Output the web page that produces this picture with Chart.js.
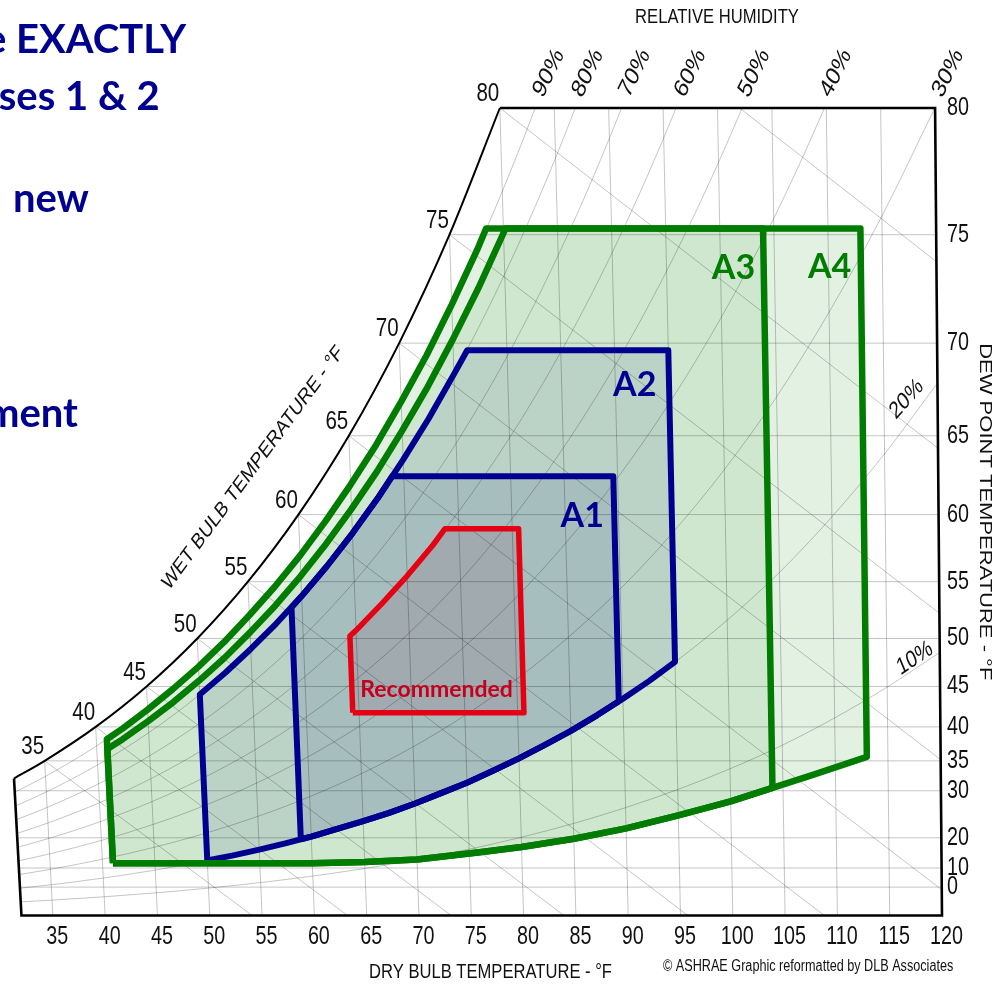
<!DOCTYPE html>
<html>
<head>
<meta charset="utf-8">
<title>ASHRAE classes – psychrometric chart</title>
<script src="https://cdn.jsdelivr.net/npm/chart.js@4.4.1/dist/chart.umd.min.js"></script>
<style>
  html, body { margin: 0; padding: 0; background: #fff; }
  #box { width: 1000px; height: 984px; }
</style>
</head>
<body>
<div id="box"><canvas id="chart" width="1000" height="984"></canvas></div>
<script>
// Saturation pressure table (°F -> psia), used to place humidity ratio on the y scale
const tableTemp = [0, 10, 20, 30, 32, 35, 40, 45, 50, 55, 60, 65, 70, 75, 80, 85, 90, 95, 100, 105, 110, 115, 120];
const tablePsat = [0.01845, 0.03085, 0.05040, 0.08075, 0.08865, 0.09998, 0.12173, 0.14756, 0.17811, 0.21413,
  0.25638, 0.30578, 0.36334, 0.43016, 0.50745, 0.59647, 0.69865, 0.81556, 0.94876, 1.1001, 1.2750, 1.4720, 1.6927];

// Axis / grid values
const dryBulbTicks = [35, 40, 45, 50, 55, 60, 65, 70, 75, 80, 85, 90, 95, 100, 105, 110, 115, 120];
const dewPointTicks = [0, 10, 20, 30, 35, 40, 45, 50, 55, 60, 65, 70, 75, 80];
const rhLevels = [10, 20, 30, 40, 50, 60, 70, 80, 90];
const rhTopLabels = ['90%', '80%', '70%', '60%', '50%', '40%', '30%'];
const rhTopTemps = [83.2, 86.8, 91.1, 96.2, 102.1, 109.6, 119.9];
const wetBulbTemps = [35, 40, 45, 50, 55, 60, 65, 70, 75, 80, 85];
const wetBulbLabels = [35, 40, 45, 50, 55, 60, 65, 70, 75, 80];

// Envelopes: dry bulb (°F) and humidity ratio (grains/lb)
const a4DryBulb = [41, 60, 65, 70, 76, 80, 85, 90, 95, 100, 104, 108, 113, 113, 78.4,
  77.5, 75, 72.5, 70, 67.5, 65, 62.5, 60, 57.5, 55, 52.5, 50, 47.5, 45, 42.5, 41];
const a4Grains = [10.1, 10.1, 10.3, 10.8, 12.2, 13.2, 14.8, 16.8, 19.3, 22.0, 24.6, 27.2, 30.6, 132.5, 132.5,
  128.3, 117.8, 108.0, 99.1, 90.7, 83.1, 76.0, 69.4, 63.4, 57.9, 52.7, 48.0, 43.7, 39.7, 36.0, 34.0];
const a3DryBulb = [41, 60, 65, 70, 76, 80, 85, 90, 95, 100, 104, 104, 80.2, 80,
  77.5, 75, 72.5, 70, 67.5, 65, 62.5, 60, 57.5, 55, 52.5, 50, 47.5, 45, 42.5, 41];
const a3Grains = [10.1, 10.1, 10.3, 10.8, 12.2, 13.2, 14.8, 16.8, 19.3, 22.0, 24.6, 132.5, 132.5, 131.6,
  120.9, 111.1, 101.9, 93.5, 85.6, 78.4, 71.7, 65.5, 59.8, 54.6, 49.7, 45.3, 41.2, 37.5, 34.0, 32.1];
const a2DryBulb = [50, 52.5, 55, 57.5, 60, 62.5, 65, 67.5, 70, 72.5, 75, 77.5, 80, 82.5, 85, 87.5, 90, 92.5, 95,
  95, 76.3, 75, 72.5, 70, 67.5, 65, 62.5, 60, 57.5, 55, 52.5, 50];
const a2Grains = [10.6, 11.6, 12.7, 13.9, 15.2, 16.7, 18.2, 19.8, 21.6, 23.6, 25.6, 27.9, 30.3, 32.9, 35.6, 38.6, 41.8, 45.2, 48.9,
  109, 109, 104.4, 95.8, 87.9, 80.5, 73.7, 67.4, 61.6, 56.3, 51.4, 46.8, 42.6];
const a1DryBulb = [59, 60, 62.5, 65, 67.5, 70, 72.5, 75, 77.5, 80, 82.5, 85, 87.5, 89.6,
  89.6, 68.9, 67.5, 65, 62.5, 60, 59];
const a1Grains = [14.7, 15.2, 16.7, 18.2, 19.8, 21.6, 23.6, 25.6, 27.9, 30.3, 32.9, 35.6, 38.6, 41.3,
  84.7, 84.7, 80.5, 73.7, 67.4, 61.6, 59.4];
const recDryBulb = [64.4, 80.6, 80.6, 73.7, 72.5, 70, 67.5, 65, 64.4];
const recGrains = [39.1, 39.1, 74.6, 74.6, 71.4, 65.5, 60.1, 55.0, 53.9];

const P_ATM = 14.696;
const GRAINS = 4354; // 7000 * 0.622

// oblique chart: dry bulb lines lean slightly with humidity
const SKEW_A = -0.0352, SKEW_B = 0.000258;
const oblique = (t, w) => ({ x: t + w * (SKEW_A + SKEW_B * t), y: w });

function psat(t) {
  for (let i = 0; i < tableTemp.length - 1; i++) {
    if (t <= tableTemp[i + 1]) {
      const f = (t - tableTemp[i]) / (tableTemp[i + 1] - tableTemp[i]);
      return Math.exp(Math.log(tablePsat[i]) + f * (Math.log(tablePsat[i + 1]) - Math.log(tablePsat[i])));
    }
  }
  return tablePsat[tablePsat.length - 1];
}
function grains(rh, t) {
  const pv = rh / 100 * psat(t);
  return GRAINS * pv / (P_ATM - pv);
}
const TOP_W = grains(100, 80);
const LEFT_T = 32;

const GREEN = '#007d00', BLUE = '#000090', RED = '#e60014';
const GRID = 'rgba(0,0,0,0.23)';

const datasets = [];
function addLine(points, color, width, order, extra) {
  datasets.push(Object.assign({
    data: points, borderColor: color, borderWidth: width, pointRadius: 0,
    tension: 0, fill: false, order: order
  }, extra || {}));
}
function polygon(ts, ws) {
  const pts = ts.map((t, i) => oblique(t, ws[i]));
  pts.push(pts[0]);
  return pts;
}

// --- envelope fills (bottom layer)
const envelopes = [
  { t: a4DryBulb, w: a4Grains, fill: 'rgba(0,128,0,0.11)', line: GREEN, width: 6.5 },
  { t: a3DryBulb, w: a3Grains, fill: 'rgba(0,128,0,0.09)', line: GREEN, width: 6.5 },
  { t: a2DryBulb, w: a2Grains, fill: 'rgba(0,0,150,0.10)', line: BLUE, width: 6 },
  { t: a1DryBulb, w: a1Grains, fill: 'rgba(0,0,150,0.11)', line: BLUE, width: 6 },
  { t: recDryBulb, w: recGrains, fill: 'rgba(205,0,80,0.12)', line: RED, width: 5.5 }
];
envelopes.forEach(e => {
  addLine(polygon(e.t, e.w), 'transparent', 0, 9, { fill: 'shape', backgroundColor: e.fill });
});

// --- grid: dry bulb lines
dryBulbTicks.filter(t => t < 120).forEach(t => {
  addLine([oblique(t, 0), oblique(t, Math.min(grains(100, t), TOP_W))], GRID, 1, 5);
});
// dew point lines
dewPointTicks.filter(d => d < 80).forEach(d => {
  const w = grains(100, d);
  addLine([oblique(Math.max(d, LEFT_T), w), oblique(120, w)], GRID, 1, 5);
});
// relative humidity curves
const rhTemps = [32, 35, 40, 45, 50, 55, 60, 65, 70, 75, 80, 85, 90, 95, 100, 105, 110, 115, 120];
rhLevels.forEach(rh => {
  addLine(rhTemps.map(t => oblique(t, grains(rh, t))), GRID, 1, 5, { cubicInterpolationMode: 'monotone' });
});
// wet bulb lines
function wetBulbW(twb, t) {
  const ws = grains(100, twb);
  return ((1093 - 0.556 * twb) * ws - 1680 * (t - twb)) / (1093 + 0.444 * t - twb);
}
wetBulbTemps.forEach(twb => {
  const ws = grains(100, twb);
  const tEnd = Math.min(120, twb + (1093 - 0.556 * twb) * ws / 1680);
  const tMid = (twb + tEnd) / 2;
  addLine([twb, tMid, tEnd].map(t => oblique(t, Math.max(0, wetBulbW(twb, t)))), GRID, 1, 5);
});

// --- envelope outlines
envelopes.forEach(e => {
  addLine(polygon(e.t, e.w), e.line, e.width, 2, { borderJoinStyle: 'round' });
});

// --- chart frame and saturation curve
const satTemps = [32, 35, 40, 45, 50, 55, 60, 65, 70, 75, 80];
addLine(satTemps.map(t => oblique(t, grains(100, t))), '#000', 2, 0, { cubicInterpolationMode: 'monotone', clip: false });
addLine([oblique(LEFT_T, grains(100, LEFT_T)), oblique(LEFT_T, 0), oblique(120, 0), oblique(120, TOP_W), oblique(80, TOP_W)],
  '#000', 2.6, 0, { clip: false });

// --- text helpers
const SQUASH = 0.79;
const SANS = '"Liberation Sans", Arial, sans-serif';
const BOLD = 'Lato, Calibri, "Open Sans", sans-serif';

function squashText(ctx, text, x, y, size, deg, align, baseline, color) {
  const a = (deg || 0) * Math.PI / 180;
  ctx.save();
  ctx.translate(x, y);
  ctx.scale(SQUASH, 1);
  ctx.rotate(Math.atan2(Math.sin(a) * SQUASH, Math.cos(a)));
  ctx.font = size + 'px ' + SANS;
  ctx.fillStyle = color || '#111';
  ctx.textAlign = align || 'center';
  ctx.textBaseline = baseline || 'middle';
  ctx.fillText(text, 0, 0);
  ctx.restore();
}
function boldText(ctx, text, x, y, size, color, align) {
  ctx.save();
  ctx.font = 'bold ' + size + 'px ' + BOLD;
  ctx.fillStyle = color;
  ctx.textAlign = align || 'center';
  ctx.textBaseline = 'middle';
  ctx.fillText(text, x, y);
  ctx.restore();
}

const classLabels = [
  { text: 'A1', t: 86.6, w: 77.0, color: BLUE },
  { text: 'A2', t: 91.8, w: 102.3, color: BLUE },
  { text: 'A3', t: 101.2, w: 124.8, color: GREEN },
  { text: 'A4', t: 110.1, w: 125.0, color: GREEN }
];

const textPlugin = {
  id: 'psychroText',
  afterDatasetsDraw(chart) {
    const ctx = chart.ctx;
    const xs = chart.scales.x, ys = chart.scales.y;
    const px = (t, w) => { const p = oblique(t, w); return [xs.getPixelForValue(p.x), ys.getPixelForValue(p.y)]; };
    const area = chart.chartArea;

    // axis tick labels (narrow figures, placed by the scales)
    xs.ticks.forEach(tk => {
      squashText(ctx, String(tk.value), xs.getPixelForValue(tk.value) + 4.5, area.bottom + 22, 25);
    });
    ys.ticks.forEach((tk, i) => {
      squashText(ctx, String(dewPointTicks[i]), area.right + 5, ys.getPixelForValue(tk.value), 25, 0, 'left');
    });

    // wet bulb numbers along the saturation curve
    wetBulbLabels.forEach(t => {
      const [x, y] = px(t, grains(100, t));
      squashText(ctx, String(t), x - 12, y - 14, 26);
    });
    squashText(ctx, 'WET BULB TEMPERATURE - °F', 253, 468, 22, -53.6);

    // relative humidity labels
    rhTopLabels.forEach((lab, i) => {
      const [x] = px(rhTopTemps[i], TOP_W);
      squashText(ctx, lab, x + 8, area.top - 9, 26, -64, 'left', 'alphabetic');
    });
    const [x20, y20] = px(120, grains(20, 120));
    squashText(ctx, '20%', x20 - 31, y20 + 16, 24, -48);
    const [x10, y10] = px(120, grains(10, 120));
    squashText(ctx, '10%', x10 - 25, y10 + 6, 24, -34);

    // axis titles
    squashText(ctx, 'RELATIVE HUMIDITY', 717, 17, 21);
    squashText(ctx, 'DRY BULB TEMPERATURE - °F', (area.left + area.right) / 2 + 14, 972, 21);
    squashText(ctx, 'DEW POINT TEMPERATURE - °F', 985, (area.top + area.bottom) / 2, 22, 90);
    squashText(ctx, '© ASHRAE Graphic reformatted by DLB Associates', 663, 967, 16, 0, 'left');

    // class labels
    classLabels.forEach(c => {
      const [x, y] = px(c.t, c.w);
      boldText(ctx, c.text, x, y, 34, c.color);
    });
    const [rx, ry] = px(72.4, 43.5);
    boldText(ctx, 'Recommended', rx, ry, 23, '#c4001e');

    // slide text cut at the left edge
    ctx.save();
    ctx.font = 'bold 40px ' + BOLD;
    ctx.fillStyle = '#00008f';
    ctx.textAlign = 'left';
    ctx.textBaseline = 'alphabetic';
    ctx.fillText('e EXACTLY', 16 - ctx.measureText('e ').width, 53);
    ctx.fillText('ses 1 & 2', 65 - ctx.measureText('ses ').width, 110);
    ctx.fillText('new', 13, 212);
    ctx.fillText('ment', 78 - ctx.measureText('ment').width, 427);
    ctx.restore();
  }
};

new Chart(document.getElementById('chart'), {
  type: 'line',
  data: { datasets: datasets },
  options: {
    responsive: false,
    animation: false,
    devicePixelRatio: 1,
    events: [],
    layout: { padding: { top: 108, left: 11, right: 0, bottom: 0 } },
    plugins: { legend: { display: false }, tooltip: { enabled: false } },
    scales: {
      x: {
        type: 'linear', min: 31, max: 120,
        grid: { display: false, drawTicks: false }, border: { display: false },
        afterBuildTicks: s => { s.ticks = dryBulbTicks.map(v => ({ value: v })); },
        afterFit: s => { s.height = 68.5; },
        ticks: { display: false, autoSkip: false }
      },
      y: {
        type: 'linear', position: 'right', min: 0, max: TOP_W,
        grid: { display: false, drawTicks: false }, border: { display: false },
        afterBuildTicks: s => { s.ticks = dewPointTicks.map(d => ({ value: grains(100, d) })); },
        afterFit: s => { s.width = 58; },
        ticks: { display: false, autoSkip: false }
      }
    }
  },
  plugins: [textPlugin]
});
</script>
</body>
</html>
